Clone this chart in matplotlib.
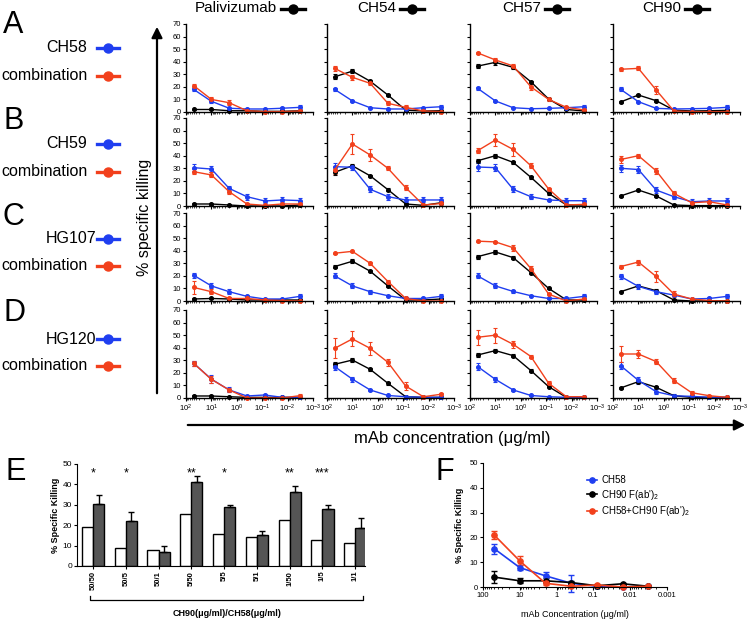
import numpy as np
import matplotlib
matplotlib.use("Agg")
import matplotlib.pyplot as plt
from matplotlib.lines import Line2D
from matplotlib.ticker import FixedLocator, LogLocator, NullFormatter

plt.rcParams['font.family'] = ['Liberation Sans', 'DejaVu Sans']
plt.rcParams['mathtext.fontset'] = 'custom'
plt.rcParams['mathtext.rm'] = 'Liberation Sans'
plt.rcParams['mathtext.it'] = 'Liberation Sans'

# ---------------------------------------------------------------------------
# data
# ---------------------------------------------------------------------------
conc = [50, 10, 2, 0.4, 0.08, 0.016, 0.0032]
columns = ["Palivizumab", "CH54", "CH57", "CH90"]
row_letters = ["A", "B", "C", "D"]
row_antibodies = ["CH58", "CH59", "HG107", "HG120"]

# each row: one list per column (Palivizumab, CH54, CH57, CH90)
A_black = [[2, 2, 1, 1, 0.5, 0.5, 1],
           [28, 32.5, 24.5, 13.5, 1.5, 0.8, 1],
           [36.5, 39.5, 35.5, 24, 10.3, 2, 0.8],
           [8, 13.5, 9, 1.5, 0.8, 1, 1.3]]
A_blue = [[18, 8.5, 3, 2.4, 2.4, 3, 3.7],
          [18, 8.8, 3.4, 2.4, 2.4, 3.4, 4.2],
          [18.8, 8.8, 3.4, 2.6, 2.9, 3.4, 4.2],
          [18, 8.2, 2.9, 2.4, 2.6, 2.9, 3.7]]
A_red = [[21, 10, 7.4, 1, 0.3, 0.3, 0.8],
         [34.7, 27.6, 22.8, 6.9, 3.7, 0.8, 0.3],
         [47, 41.4, 36.6, 20, 10, 3.7, 1.6],
         [34, 34.7, 17.5, 0.8, 0.3, 0.3, 0.3]]
A_black_err = [[0.5] * 7, [2, 1.5, 1, 1, 0.5, 0.5, 0.5],
               [1.5, 2, 1, 1, 1, 0.5, 0.5], [0.5, 1, 1, 0.5, 0.5, 0.5, 0.5]]
A_blue_err = [[1, 1, 0.5, 0.5, 0.5, 1, 1.5], [1, 0.5, 0.5, 0.5, 0.5, 0.5, 1.5],
              [1, 0.5, 0.5, 0.5, 0.5, 0.5, 1.5], [1.5, 0.5, 0.5, 0.5, 0.5, 0.5, 1.5]]
A_red_err = [[1.5, 2, 2, 0.5, 0.5, 0.5, 0.5], [2, 2, 1.5, 1.5, 2, 0.5, 0.5],
             [0.5, 1.5, 1.5, 2.5, 1, 1, 0.5], [1, 1.5, 3, 0.5, 0.5, 0.5, 0.5]]

B_black = [[1.6, 1.6, 0.8, 0, 0, 0, 0.8],
           [26.8, 32, 24, 13, 1.6, 0.5, 2.6],
           [36, 40, 34.7, 22.8, 10, 0.8, 0.8],
           [8, 12.7, 8, 0.8, 0.3, 0.3, 0.3]]
B_blue = [[30.5, 29.4, 14, 7.4, 4, 4.8, 4.3],
          [31.3, 30.8, 13.3, 7.4, 4.8, 4.8, 4.8],
          [31, 30.5, 13.3, 7.4, 4.8, 4.2, 4.2],
          [30, 29, 12.7, 7.4, 3.4, 4, 4]]
B_red = [[27.3, 24.7, 11.4, 1.6, 0.5, 1.6, 1.6],
         [28.6, 49.3, 40.6, 30, 14.6, 0.8, 2],
         [44, 52.5, 45, 32, 13.5, 0.8, 1.3],
         [37, 40, 28, 10, 2.6, 3.4, 0.8]]
B_black_err = [[0.5] * 7, [2, 1.5, 1, 1, 0.5, 0.5, 1],
               [1.5, 1.5, 1, 1, 1, 0.5, 0.5], [0.5, 1, 1, 0.5, 0.5, 0.5, 0.5]]
B_blue_err = [[3, 2.5, 2, 2.5, 2, 2, 2], [3, 2, 2.5, 2.5, 2, 2, 2],
              [3, 3, 2.5, 2, 1, 2, 2], [3, 3, 2.5, 2, 2, 2, 2]]
B_red_err = [[2, 2, 1.5, 0.5, 0.5, 0.5, 0.5], [3, 8, 5, 1.5, 2, 0.5, 1],
             [2, 5, 5, 2, 1, 0.5, 0.5], [2.5, 1.5, 2.5, 2, 1, 1, 0.5]]

C_black = [[1.6, 2, 1.6, 0.8, 0.8, 0.8, 0.8],
           [27.4, 31.6, 23.7, 12, 0.8, 0.8, 1.6],
           [35.3, 39, 34.5, 22.6, 10, 0.8, 0.8],
           [7.4, 12, 8.2, 0.8, 0, 0, 0]]
C_blue = [[20.5, 12, 7.4, 3.7, 1.6, 1.6, 3.7],
          [20, 12, 7.4, 4.2, 2, 2, 3.7],
          [20, 12, 7.6, 4.2, 2, 2, 3.7],
          [19.5, 11.6, 7.4, 4.7, 1.6, 2, 3.7]]
C_red = [[10.8, 7.4, 2, 2, 0.8, 0.3, 0],
         [38, 39.5, 30, 15.5, 2, 0, 0],
         [47.6, 47, 42.4, 25.8, 5.5, 0, 1.6],
         [27.4, 31, 19.5, 5.5, 1.6, 0.3, 0]]
C_black_err = [[0.5] * 7, [1.5, 1.5, 1, 1, 0.5, 0.5, 0.5],
               [1.5, 1.5, 1, 1, 0.5, 0.5, 0.5], [0.5, 1, 1, 0.5, 0.5, 0.5, 0.5]]
C_blue_err = [[2, 2, 2, 1, 0.5, 1, 1.5], [2, 2, 1.5, 0.5, 0.5, 1, 1.5],
              [2, 2, 1.5, 0.5, 0.5, 1, 1.5], [2, 2, 1.5, 1, 0.5, 1, 1.5]]
C_red_err = [[5, 2, 1, 1, 0.5, 0.5, 0.5], [0.5, 0.5, 1, 1, 0.5, 0.5, 0.5],
             [0.5, 0.5, 2.5, 2, 1, 0.5, 0.5], [1.5, 2, 4, 2.5, 1, 0.5, 0.5]]

D_black = [[1.6, 1.6, 1, 0.5, 0.5, 0.5, 0.5],
           [26.8, 30.2, 22.8, 11.7, 1, 0.5, 0.5],
           [34.2, 37.7, 33.7, 21.8, 9, 0.5, 0.5],
           [8, 13, 8.5, 1.8, 0.5, 0.5, 0.5]]
D_blue = [[27.6, 15, 6.4, 1.6, 2.4, 0.5, 0.5],
          [25, 15, 6.4, 2, 1, 0.5, 0.5],
          [25, 14.8, 6.4, 2, 1, 0.5, 0.5],
          [25.7, 14, 5, 1.8, 1.3, 0.5, 0.5]]
D_red = [[27.6, 14.8, 6.4, 0, 0, 0, 1.9],
         [39.5, 47, 39.5, 28.4, 9.5, 1, 3],
         [48.3, 50, 42.7, 33, 11.7, 1, 1],
         [35, 35, 29, 13.8, 4.2, 1.8, 0.5]]
D_black_err = [[0.5] * 7, [1.5, 1.5, 1, 1, 0.5, 0.5, 0.5],
               [1.5, 1.5, 1, 1, 0.5, 0.5, 0.5], [0.5, 1, 1, 0.5, 0.5, 0.5, 0.5]]
D_blue_err = [[2, 3, 2, 1, 1, 0.5, 0.5], [3, 2, 1, 0.5, 0.5, 0.5, 0.5],
              [3, 2, 1, 0.5, 0.5, 0.5, 0.5], [3, 3, 2, 1, 1, 0.5, 0.5]]
D_red_err = [[2, 3, 1.5, 0.5, 0.5, 0.5, 1], [8, 6, 5, 3, 3, 0.5, 1],
             [6, 6, 3, 1, 2, 0.5, 0.5], [6, 3, 2, 2, 1, 0.5, 0.5]]

# panel E
E_labels = ["50/50", "50/5", "50/1", "5/50", "5/5", "5/1", "1/50", "1/5", "1/1"]
E_single = [19, 9, 7.8, 25.6, 15.8, 14.3, 22.6, 12.6, 11.3]
E_combo = [30.4, 21.9, 6.7, 41.3, 28.9, 15.0, 36.3, 28.1, 18.4]
E_err = [4.5, 4.7, 3.0, 2.7, 1.2, 2.3, 2.7, 2.0, 5.3]
E_stars = ["*", "*", "", "**", "*", "", "**", "***", ""]

# panel F
F_ch58 = [15.5, 7.8, 4.5, 1.5, 0.3, 0, 0.3]
F_ch58_err = [2, 1, 1.5, 3.5, 0.3, 0.2, 0.3]
F_fab = [4, 2.5, 2.5, 1.8, 0.5, 1.3, 0.3]
F_fab_err = [2.5, 1, 1, 0.5, 0.3, 0.5, 0.3]
F_combo = [21, 10.5, 1.5, 0.3, 0.8, 0, 0.3]
F_combo_err = [1.5, 1.8, 0.5, 0.3, 0.3, 0.2, 0.3]

BLUE = '#1f3ef0'
RED = '#f2401c'
BLACK = '#000000'

W, H = 754, 619


def box(l, t, r, b):
    return [l / W, 1 - b / H, (r - l) / W, (b - t) / H]


def fx(x):
    return x / W


def fy(y):
    return 1 - y / H


def icon(fig, x0, x1, y, color, ms=6.5, lw=2.4):
    fig.add_artist(Line2D([fx(x0), fx((x0 + x1) / 2), fx(x1)], [fy(y)] * 3,
                          color=color, lw=lw, marker='o', ms=ms, markevery=[1],
                          transform=fig.transFigure))


fig = plt.figure(figsize=(W / 100, H / 100), dpi=100)
renderer = fig.canvas.get_renderer()

rows = [(A_black, A_blue, A_red, A_black_err, A_blue_err, A_red_err),
        (B_black, B_blue, B_red, B_black_err, B_blue_err, B_red_err),
        (C_black, C_blue, C_red, C_black_err, C_blue_err, C_red_err),
        (D_black, D_blue, D_red, D_black_err, D_blue_err, D_red_err)]

col_left = [186, 327, 470, 613]
col_w = 127
row_top = [24, 118, 213, 310]
row_h = 88

for r, (blk, blu, red, blk_e, blu_e, red_e) in enumerate(rows):
    for c in range(4):
        ax = fig.add_axes(box(col_left[c], row_top[r], col_left[c] + col_w, row_top[r] + row_h))
        for vals, errs, col in [(blk, blk_e, BLACK), (blu, blu_e, BLUE), (red, red_e, RED)]:
            ax.errorbar(conc, vals[c], yerr=errs[c], color=col, marker='o', ms=2.6,
                        lw=1.0, elinewidth=0.8, capsize=1.6, capthick=0.8,
                        ecolor=col, clip_on=False)
        ax.set_xscale('log')
        ax.set_xlim(100, 0.001)
        ax.set_ylim(0, 70)
        ax.set_yticks(range(0, 71, 10))
        ax.xaxis.set_major_locator(FixedLocator([1e2, 1e1, 1e0, 1e-1, 1e-2, 1e-3]))
        ax.xaxis.set_minor_locator(LogLocator(base=10, subs=np.arange(2, 10)))
        ax.xaxis.set_minor_formatter(NullFormatter())
        for s in ['top', 'right']:
            ax.spines[s].set_visible(False)
        for s in ['left', 'bottom']:
            ax.spines[s].set_linewidth(1.0)
        ax.tick_params(axis='both', which='major', length=2.5, width=0.8,
                       labelsize=5.5, pad=1)
        ax.tick_params(axis='x', which='minor', length=1.3, width=0.5)
        if c != 0:
            ax.set_yticklabels([])
        if r != 3:
            ax.set_xticklabels([])
        ax.patch.set_alpha(0)

# column titles, icon placed right after the text
title_x = [195, 357, 502, 642]
for name, tx in zip(columns, title_x):
    t = fig.text(fx(tx), fy(8), name, fontsize=11, ha='left', va='center')
    x_end = t.get_window_extent(renderer).x1
    icon(fig, x_end + 4, x_end + 28, 8.5, BLACK)

# row labels on the left
letter_y = [25, 121, 217, 313]
name_y = [48, 144, 239, 339]
combo_y = [76, 172, 266, 366]
for r in range(4):
    fig.text(fx(3), fy(letter_y[r]), row_letters[r], fontsize=22, ha='left', va='center')
    fig.text(fx(46), fy(name_y[r]), row_antibodies[r], fontsize=11.5, ha='left', va='center')
    fig.text(fx(88), fy(combo_y[r]), "combination", fontsize=11.5, ha='right', va='center')
    icon(fig, 97, 119, name_y[r], BLUE)
    icon(fig, 97, 119, combo_y[r], RED)

# big axis arrows
fig.add_artist(matplotlib.patches.FancyArrowPatch(
    (fx(157), fy(396)), (fx(157), fy(24)), transform=fig.transFigure,
    arrowstyle='-|>', mutation_scale=16, lw=1.6, color='k'))
fig.text(fx(145), fy(217), "% specific killing", rotation=90, fontsize=11.5,
         ha='center', va='center')
fig.add_artist(matplotlib.patches.FancyArrowPatch(
    (fx(185), fy(425)), (fx(748), fy(425)), transform=fig.transFigure,
    arrowstyle='-|>', mutation_scale=16, lw=1.6, color='k'))
fig.text(fx(452), fy(438), "mAb concentration (\u03bcg/ml)", fontsize=12,
         ha='center', va='center')

# ---------------------------------------------------------------------------
# panel E
# ---------------------------------------------------------------------------
axE = fig.add_axes(box(77, 464, 365, 566))
x = np.arange(len(E_labels))
bw = 0.34
axE.bar(x - bw / 2, E_single, width=bw, color='white', edgecolor='k', lw=1.0)
axE.bar(x + bw / 2, E_combo, width=bw, color='#555555', edgecolor='k', lw=1.0,
        yerr=[np.zeros(len(E_err)), E_err], capsize=2.5,
        error_kw=dict(elinewidth=1.0, capthick=1.0, ecolor='k'))
for xi, s in zip(x, E_stars):
    if s:
        axE.text(xi, 45.5, s, ha='center', va='center', fontsize=9)
axE.set_xlim(-0.49, 8.3)
axE.set_ylim(0, 50)
axE.set_yticks(range(0, 51, 10))
axE.set_xticks(x)
axE.set_xticklabels(E_labels, rotation=90, fontsize=5.5, fontweight='bold')
axE.tick_params(axis='y', labelsize=6, length=2.5, width=0.8, pad=1)
axE.tick_params(axis='x', length=2.5, width=0.8, pad=1)
for s in ['top', 'right']:
    axE.spines[s].set_visible(False)
axE.set_ylabel("% Specific Killing", fontsize=6.5, fontweight='bold', labelpad=2)
fig.text(fx(5), fy(472), "E", fontsize=22, ha='left', va='center')
fig.add_artist(Line2D([fx(90), fx(90), fx(363), fx(363)],
                      [fy(596), fy(600), fy(600), fy(596)],
                      color='k', lw=0.9, transform=fig.transFigure))
fig.text(fx(227), fy(614), "CH90(\u03bcg/ml)/CH58(\u03bcg/ml)", fontsize=6.5,
         fontweight='bold', ha='center', va='center')

# ---------------------------------------------------------------------------
# panel F
# ---------------------------------------------------------------------------
axF = fig.add_axes(box(483, 463, 667, 587))
handles = []
for vals, errs, col, lab in [(F_ch58, F_ch58_err, BLUE, "CH58"),
                             (F_fab, F_fab_err, BLACK, "CH90 F(ab')$_2$"),
                             (F_combo, F_combo_err, RED, "CH58+CH90 F(ab')$_2$")]:
    axF.errorbar(conc, vals, yerr=errs, color=col, marker='o', ms=3.8, lw=1.2,
                 elinewidth=1.0, capsize=2, capthick=1.0, clip_on=False)
    handles.append(Line2D([], [], color=col, marker='o', ms=3.8, lw=1.2, label=lab))
axF.set_xscale('log')
axF.set_xlim(100, 0.001)
axF.set_ylim(0, 50)
axF.set_yticks(range(0, 51, 10))
axF.xaxis.set_major_locator(FixedLocator([100, 10, 1, 0.1, 0.01, 0.001]))
axF.set_xticklabels(["100", "10", "1", "0.1", "0.01", "0.001"])
axF.xaxis.set_minor_locator(LogLocator(base=10, subs=np.arange(2, 10)))
axF.xaxis.set_minor_formatter(NullFormatter())
axF.tick_params(axis='both', which='major', labelsize=5.5, length=2.5, width=0.8, pad=1)
axF.tick_params(axis='x', which='minor', length=1.5, width=0.6)
for s in ['top', 'right']:
    axF.spines[s].set_visible(False)
axF.set_ylabel("% Specific Killing", fontsize=6.5, fontweight='bold', labelpad=4)
axF.set_xlabel("mAb Concentration (\u03bcg/ml)", fontsize=6.5, labelpad=8)
axF.legend(handles=handles, loc='upper left', bbox_to_anchor=(0.52, 0.97),
           frameon=False, fontsize=7, handlelength=1.0, handletextpad=0.4,
           labelspacing=0.25)
fig.text(fx(445), fy(472), "F", fontsize=22, ha='center', va='center')

fig.savefig("out.png", dpi=100)
